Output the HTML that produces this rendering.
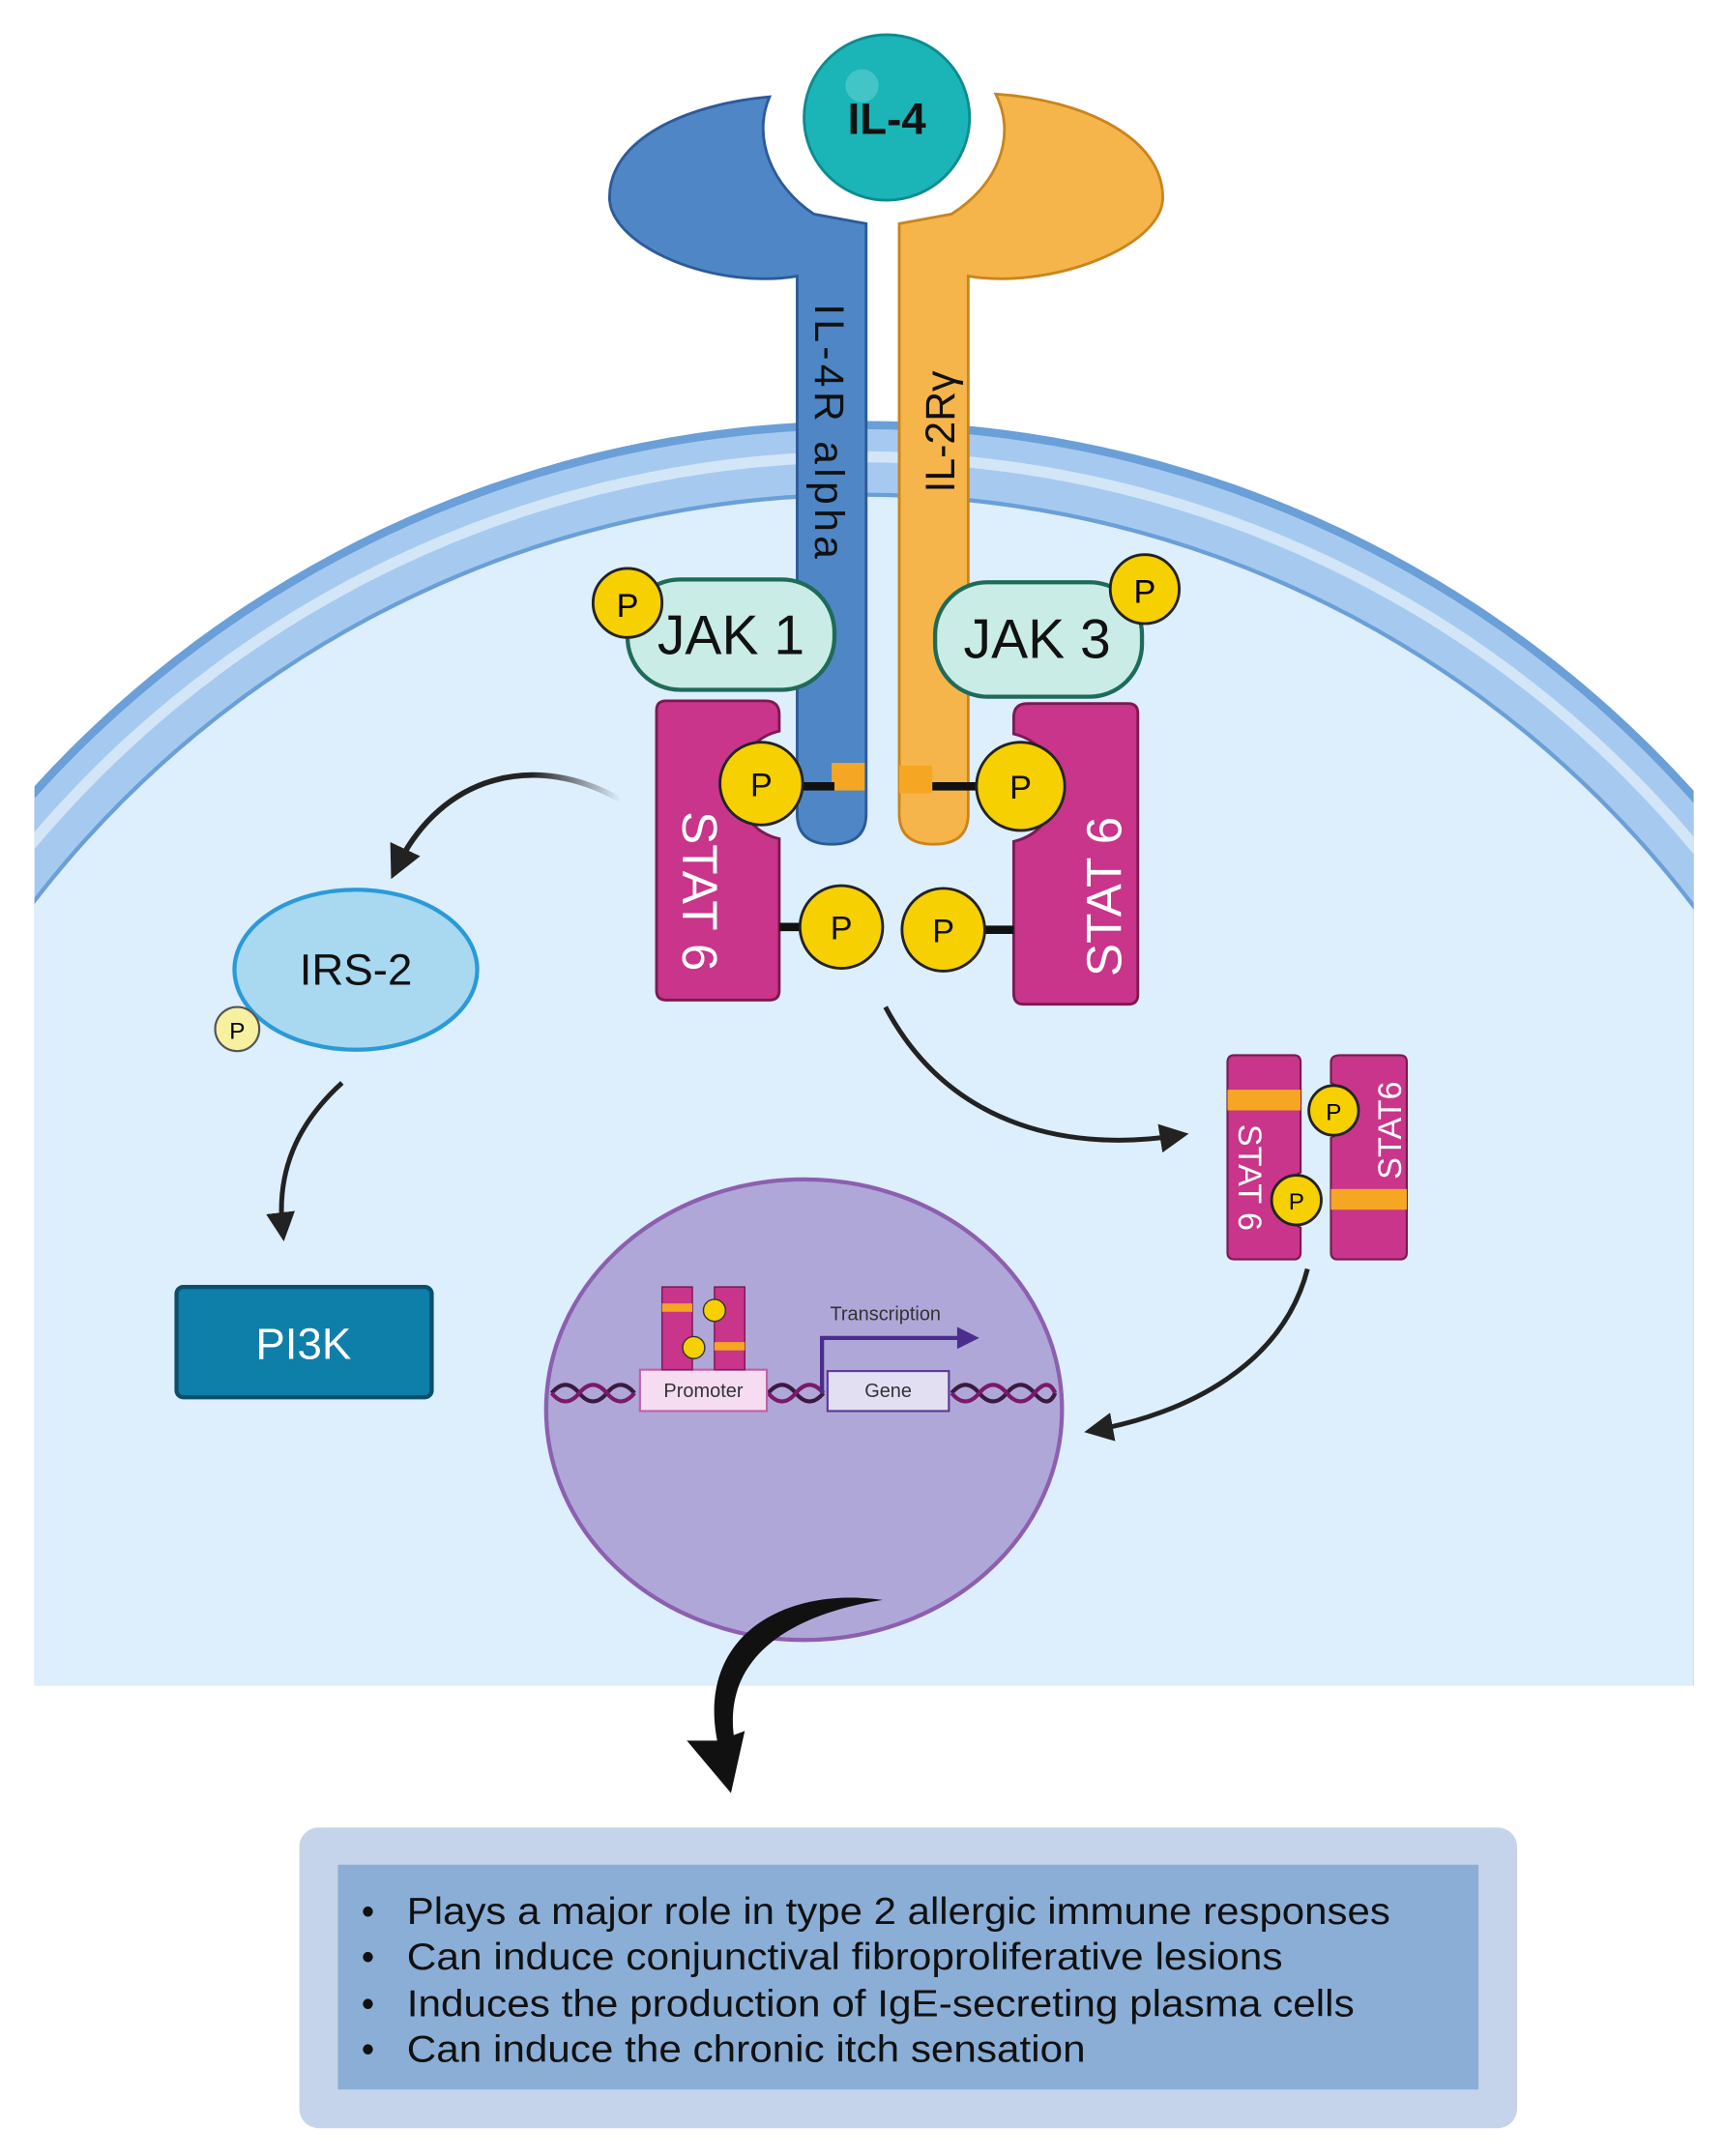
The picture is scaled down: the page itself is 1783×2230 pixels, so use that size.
<!DOCTYPE html>
<html><head><meta charset="utf-8"><style>html,body{margin:0;padding:0;background:#fff;width:1783px;height:2230px;overflow:hidden}svg{display:block}</style></head>
<body>
<svg width="1783" height="2230" viewBox="0 0 1250 1563" xmlns="http://www.w3.org/2000/svg" font-family="Liberation Sans, sans-serif">
<defs>
<clipPath id="cell"><rect x="25" y="0" width="1203" height="1222"/></clipPath>
<marker id="ah" markerWidth="6" markerHeight="6" refX="4" refY="3" orient="auto" markerUnits="strokeWidth"><path d="M0,0 L6,3 L0,6 z" fill="#222"/></marker>
<linearGradient id="fadeL" x1="1" y1="0" x2="0" y2="0"><stop offset="0" stop-color="#222" stop-opacity="0"/><stop offset="0.4" stop-color="#222"/></linearGradient>
</defs>
<rect width="1250" height="1563" fill="#fff"/>
<g clip-path="url(#cell)">
<circle cx="625" cy="1117" r="812" fill="#6a9fd8"/>
<circle cx="625" cy="1117" r="806" fill="#a6caef"/>
<circle cx="625" cy="1117" r="790" fill="#d3e6f8"/>
<circle cx="625" cy="1117" r="782" fill="#a6caef"/>
<circle cx="625" cy="1117" r="760" fill="#6a9fd8"/>
<circle cx="625" cy="1117" r="757" fill="#ddeefc"/>
<rect x="25" y="660" width="1203" height="562" fill="#ddeefc"/>
</g>
<path d="M578,200 C520,210 445,180 442,145 C440,100 500,75 558,70 C545,100 560,135 590,155 L628,162 L628,590 Q628,612 603,612 Q578,612 578,590 Z" fill="#4f86c6" stroke="#2c5a9a" stroke-width="2"/>
<path d="M702,200 C760,210 840,180 843,145 C845,100 785,72 722,68 C738,100 722,135 690,155 L652,162 L652,590 Q652,612 677,612 Q702,612 702,590 Z" fill="#f6b54a" stroke="#c9851e" stroke-width="2"/>
<circle cx="643" cy="85" r="60" fill="#1bb5b8" stroke="#0e8b8e" stroke-width="2"/>
<circle cx="625" cy="62" r="12" fill="#5fd0d2" opacity="0.6"/>
<text x="643" y="97" font-size="32" font-weight="bold" text-anchor="middle" fill="#111">IL-4</text>
<text transform="translate(591,220) rotate(90)" font-size="30" fill="#111" textLength="185">IL-4R alpha</text>
<text transform="translate(692,357) rotate(-90)" font-size="30" fill="#111">IL-2Rγ</text>
<rect x="455" y="420" width="150" height="80" rx="38" fill="#c9ece6" stroke="#1e6b5a" stroke-width="3"/>
<text x="530" y="474" font-size="40" text-anchor="middle" fill="#111">JAK 1</text>
<circle cx="455" cy="437" r="25" fill="#f6d000" stroke="#222" stroke-width="2"/>
<text x="455" y="447" font-size="24" text-anchor="middle">P</text>
<rect x="678" y="422" width="150" height="83" rx="38" fill="#c9ece6" stroke="#1e6b5a" stroke-width="3"/>
<text x="752" y="477" font-size="40" text-anchor="middle" fill="#111">JAK 3</text>
<circle cx="830" cy="427" r="25" fill="#f6d000" stroke="#222" stroke-width="2"/>
<text x="830" y="437" font-size="24" text-anchor="middle">P</text>
<path d="M476,515 Q476,508 483,508 L555,508 Q565,508 565,518 L565,530 A40,40 0 0 0 565,608 L565,640 L565,718 Q565,725 558,725 L483,725 Q476,725 476,718 Z" fill="#c8358a" stroke="#7a1a52" stroke-width="2"/>
<path d="M825,517 Q825,510 818,510 L745,510 Q735,510 735,520 L735,532 A40,40 0 0 1 735,610 L735,720 Q735,728 742,728 L818,728 Q825,728 825,721 Z" fill="#c8358a" stroke="#7a1a52" stroke-width="2"/>
<text transform="translate(495,588) rotate(90)" font-size="36" fill="#fff">STAT 6</text>
<text transform="translate(813,708) rotate(-90)" font-size="36" fill="#fff">STAT 6</text>
<rect x="603" y="553" width="24" height="20" fill="#f5a623"/>
<rect x="652" y="555" width="24" height="20" fill="#f5a623"/>
<line x1="575" y1="570" x2="605" y2="570" stroke="#111" stroke-width="6"/>
<line x1="676" y1="570" x2="710" y2="570" stroke="#111" stroke-width="6"/>
<line x1="565" y1="672" x2="585" y2="672" stroke="#111" stroke-width="6"/>
<line x1="712" y1="674" x2="735" y2="674" stroke="#111" stroke-width="6"/>
<g fill="#f6d000" stroke="#222" stroke-width="2">
<circle cx="552" cy="568" r="30"/><circle cx="740" cy="570" r="32"/><circle cx="610" cy="672" r="30"/><circle cx="684" cy="674" r="30"/></g>
<g font-size="24" text-anchor="middle" fill="#111">
<text x="552" y="577">P</text><text x="740" y="579">P</text><text x="610" y="681">P</text><text x="684" y="683">P</text></g>
<path d="M450,580 C390,545 320,560 287,630" fill="none" stroke="url(#fadeL)" stroke-width="4" marker-end="url(#ah)"/>
<path d="M248,785 C215,815 200,850 205,893" fill="none" stroke="#222" stroke-width="3.5" marker-end="url(#ah)"/>
<path d="M642,730 C690,820 780,835 855,823" fill="none" stroke="#222" stroke-width="3.5" marker-end="url(#ah)"/>
<path d="M948,920 C930,990 860,1025 793,1037" fill="none" stroke="#222" stroke-width="3.5" marker-end="url(#ah)"/>
<ellipse cx="258" cy="703" rx="88" ry="58" fill="#a9d8f1" stroke="#2a9ad8" stroke-width="3"/>
<text x="258" y="714" font-size="32" text-anchor="middle" fill="#111">IRS-2</text>
<circle cx="172" cy="746" r="16" fill="#f7f0a0" stroke="#555" stroke-width="1.5"/>
<text x="172" y="753" font-size="17" text-anchor="middle">P</text>
<rect x="128" y="933" width="185" height="80" rx="5" fill="#0e7fa8" stroke="#0b4f6c" stroke-width="3"/>
<text x="220" y="985" font-size="32" text-anchor="middle" fill="#fff">PI3K</text>
<path d="M890,770 Q890,765 895,765 L938,765 Q943,765 943,770 L943,790 L943,850 A22,22 0 0 0 943,890 L943,908 Q943,913 938,913 L895,913 Q890,913 890,908 Z" fill="#c8358a" stroke="#7a1a52" stroke-width="1.5"/>
<path d="M1020,770 Q1020,765 1015,765 L972,765 Q965,765 965,770 L965,785 A22,22 0 0 1 965,825 L965,908 Q965,913 970,913 L1015,913 Q1020,913 1020,908 Z" fill="#c8358a" stroke="#7a1a52" stroke-width="1.5"/>
<rect x="890" y="790" width="53" height="15" fill="#f5a623"/>
<rect x="965" y="862" width="55" height="15" fill="#f5a623"/>
<circle cx="967" cy="805" r="18" fill="#f6d000" stroke="#222" stroke-width="2"/>
<circle cx="940" cy="870" r="18" fill="#f6d000" stroke="#222" stroke-width="2"/>
<text x="967" y="812" font-size="17" text-anchor="middle">P</text><text x="940" y="877" font-size="17" text-anchor="middle">P</text>
<text transform="translate(898,815) rotate(90)" font-size="24" fill="#fff">STAT 6</text>
<text transform="translate(1016,855) rotate(-90)" font-size="24" fill="#fff">STAT6</text>
<ellipse cx="583" cy="1022" rx="187" ry="167" fill="#b0a7d9" stroke="#8c5fb0" stroke-width="3"/>
<g fill="none" stroke-width="3">
<path d="M400,1010 q10,-12 20,0 t20,0 t20,0 M557,1010 q10,-12 20,0 t20,0 M690,1010 q10,-12 20,0 t20,0 t20,0 t15,0" stroke="#3a1a40"/>
<path d="M400,1010 q10,12 20,0 t20,0 t20,0 M557,1010 q10,12 20,0 t20,0 M690,1010 q10,12 20,0 t20,0 t20,0 t15,0" stroke="#7a1a6a"/>
</g>
<rect x="464" y="993" width="92" height="30" fill="#f5dcf0" stroke="#c060a8" stroke-width="1.5"/>
<text x="510" y="1013" font-size="14" text-anchor="middle" fill="#333">Promoter</text>
<rect x="600" y="994" width="88" height="29" fill="#e3dff3" stroke="#5a3a98" stroke-width="1.5"/>
<text x="644" y="1013" font-size="14" text-anchor="middle" fill="#333">Gene</text>
<path d="M596,1010 L596,970 L698,970" fill="none" stroke="#4a2d8c" stroke-width="3"/>
<path d="M694,962 L710,970 L694,978 z" fill="#4a2d8c"/>
<text x="642" y="957" font-size="14" text-anchor="middle" fill="#333">Transcription</text>
<path d="M480,933 h22 v60 h-22 z" fill="#c8358a" stroke="#7a1a52"/>
<path d="M518,933 h22 v60 h-22 z" fill="#c8358a" stroke="#7a1a52"/>
<rect x="480" y="945" width="22" height="6" fill="#f5a623"/><rect x="518" y="973" width="22" height="6" fill="#f5a623"/>
<circle cx="518" cy="950" r="8" fill="#f6d000" stroke="#333"/><circle cx="503" cy="977" r="8" fill="#f6d000" stroke="#333"/>
<path d="M640,1160 C570,1150 505,1185 520,1262 L498,1262 L530,1300 L540,1255 L532,1258 C525,1200 575,1170 640,1160 z" fill="#111"/>
<rect x="217" y="1325" width="883" height="218" rx="14" fill="#c5d4ea"/>
<rect x="245" y="1352" width="827" height="163" fill="#8aaed6"/>
<g font-size="27" fill="#111">
<text x="262" y="1395">•</text><text x="295" y="1395" textLength="713" lengthAdjust="spacingAndGlyphs">Plays a major role in type 2 allergic immune responses</text>
<text x="262" y="1428">•</text><text x="295" y="1428" textLength="635" lengthAdjust="spacingAndGlyphs">Can induce conjunctival fibroproliferative lesions</text>
<text x="262" y="1462">•</text><text x="295" y="1462" textLength="687" lengthAdjust="spacingAndGlyphs">Induces the production of IgE-secreting plasma cells</text>
<text x="262" y="1495">•</text><text x="295" y="1495" textLength="492" lengthAdjust="spacingAndGlyphs">Can induce the chronic itch sensation</text>
</g>
</svg>
</body></html>
